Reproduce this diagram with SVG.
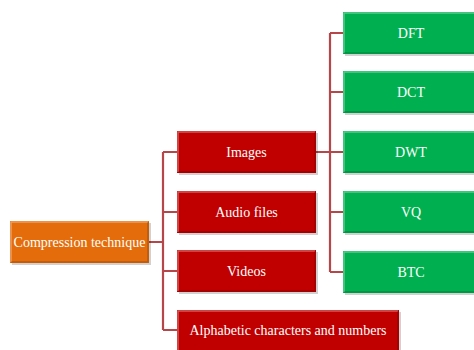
<svg xmlns="http://www.w3.org/2000/svg" width="474" height="350" viewBox="0 0 474 350">
<style>
.lbl{font-family:"Liberation Serif","Times New Roman",serif;font-size:14px;fill:#ffffff;text-anchor:middle;dominant-baseline:central}
.con{fill:none;stroke:#B6464A;stroke-width:2.2}
.sh{fill:#000;opacity:0.18}
.hl{fill:none;stroke:#ffffff;stroke-opacity:0.35;stroke-width:1.5}
.dk{fill:none;stroke:#000;stroke-opacity:0.18;stroke-width:1.5}
</style>
<rect width="474" height="350" fill="#ffffff"/>
<g id="connectors">
<path class="con" d="M149 242 H163 M163 152 V330 M163 152 H177 M163 212 H177 M163 271 H177 M163 330 H177"/>
<path class="con" d="M316 152 H330 M330 33 V272 M330 33 H343 M330 92 H343 M330 152 H343 M330 212 H343 M330 272 H343"/>
</g>
<g id="root">
<rect class="sh" x="12" y="223" width="139" height="42"/>
<rect x="10" y="221" width="139" height="42" fill="#E46C0A"/>
<path class="hl" d="M11 262 V222 H148"/>
<path class="dk" d="M11 262 H148 V222"/>
<text class="lbl" x="79.5" y="242">Compression technique</text>
</g>
<g id="images">
<rect class="sh" x="179" y="133" width="139" height="42"/>
<rect x="177" y="131" width="139" height="42" fill="#C00000"/>
<path class="hl" d="M178 172 V132 H315"/>
<path class="dk" d="M178 172 H315 V132"/>
<text class="lbl" x="246.5" y="152">Images</text>
</g>
<g id="audio">
<rect class="sh" x="179" y="193" width="139" height="42"/>
<rect x="177" y="191" width="139" height="42" fill="#C00000"/>
<path class="hl" d="M178 232 V192 H315"/>
<path class="dk" d="M178 232 H315 V192"/>
<text class="lbl" x="246.5" y="212">Audio files</text>
</g>
<g id="videos">
<rect class="sh" x="179" y="252" width="139" height="42"/>
<rect x="177" y="250" width="139" height="42" fill="#C00000"/>
<path class="hl" d="M178 291 V251 H315"/>
<path class="dk" d="M178 291 H315 V251"/>
<text class="lbl" x="246.5" y="271">Videos</text>
</g>
<g id="alpha">
<rect class="sh" x="179" y="312" width="222" height="42"/>
<rect x="177" y="310" width="222" height="42" fill="#C00000"/>
<path class="hl" d="M178 351 V311 H398"/>
<path class="dk" d="M178 351 H398 V311"/>
<text class="lbl" x="288" y="330">Alphabetic characters and numbers</text>
</g>
<g id="dft">
<rect class="sh" x="345" y="14" width="140" height="42"/>
<rect x="343" y="12" width="140" height="42" fill="#00B050"/>
<path class="hl" d="M344 53 V13 H483"/>
<path class="dk" d="M344 53 H483"/>
<text class="lbl" x="411" y="33">DFT</text>
</g>
<g id="dct">
<rect class="sh" x="345" y="73" width="140" height="42"/>
<rect x="343" y="71" width="140" height="42" fill="#00B050"/>
<path class="hl" d="M344 112 V72 H483"/>
<path class="dk" d="M344 112 H483"/>
<text class="lbl" x="411" y="92">DCT</text>
</g>
<g id="dwt">
<rect class="sh" x="345" y="133" width="140" height="42"/>
<rect x="343" y="131" width="140" height="42" fill="#00B050"/>
<path class="hl" d="M344 172 V132 H483"/>
<path class="dk" d="M344 172 H483"/>
<text class="lbl" x="411" y="152">DWT</text>
</g>
<g id="vq">
<rect class="sh" x="345" y="193" width="140" height="42"/>
<rect x="343" y="191" width="140" height="42" fill="#00B050"/>
<path class="hl" d="M344 232 V192 H483"/>
<path class="dk" d="M344 232 H483"/>
<text class="lbl" x="411" y="212">VQ</text>
</g>
<g id="btc">
<rect class="sh" x="345" y="253" width="140" height="42"/>
<rect x="343" y="251" width="140" height="42" fill="#00B050"/>
<path class="hl" d="M344 292 V252 H483"/>
<path class="dk" d="M344 292 H483"/>
<text class="lbl" x="411" y="272">BTC</text>
</g>
</svg>
